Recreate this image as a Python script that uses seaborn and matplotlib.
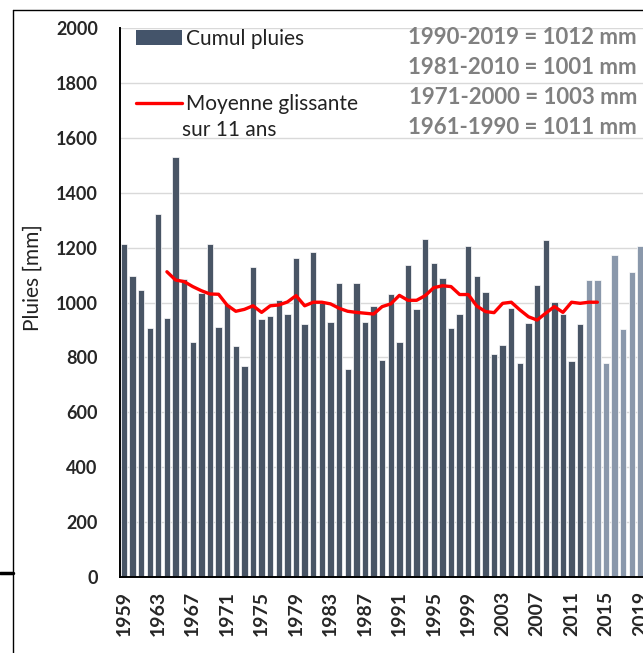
import matplotlib
matplotlib.use("Agg")
import matplotlib.pyplot as plt
from matplotlib.lines import Line2D
from matplotlib.patches import Patch
import numpy as np
import pandas as pd
import seaborn as sns

# cumul annuel des pluies (mm), 1959-2019
annees = list(range(1959, 2020))
pluies = [1213, 1098, 1045, 906, 1322, 942, 1530, 1086, 855, 1033,
          1213, 910, 994, 841, 770, 1129, 939, 951, 1009, 958,
          1161, 922, 1185, 997, 930, 1070, 757, 1070, 930, 986,
          790, 1030, 855, 1138, 978, 1230, 1145, 1090, 906, 958,
          1206, 1098, 1037, 814, 845, 981, 778, 927, 1063, 1227,
          1001, 959, 787, 923, 1082, 1082, 778, 1174, 902, 1110, 1206]
derniere_annee_foncee = 2012

# moyenne glissante sur 11 ans
annees_mg = list(range(1964, 2015))
moy_gliss = [1112, 1082, 1076, 1058, 1043, 1031, 1030, 990, 968, 975,
             988, 964, 988, 991, 1002, 1025, 988, 1001, 1001, 995,
             979, 968, 964, 961, 958, 985, 995, 1026, 1008, 1008,
             1025, 1054, 1061, 1058, 1029, 1029, 987, 967, 963, 997,
             1001, 973, 948, 936, 961, 985, 964, 1001, 997, 1001, 1001]

normales = ["1990-2019 = 1012 mm", "1981-2010 = 1001 mm",
            "1971-2000 = 1003 mm", "1961-1990 = 1011 mm"]

fonce = "#44546A"
clair = "#8497B0"

sns.set_theme(style="white")
plt.rcParams["font.family"] = ["Lato", "DejaVu Sans"]

df = pd.DataFrame({"annee": [str(a) for a in annees], "pluie": pluies,
                   "serie": ["a" if a <= derniere_annee_foncee else "b" for a in annees]})

fig = plt.figure(figsize=(6.43, 6.53), dpi=100)
ax = fig.add_axes([120 / 643, 76 / 653, 523 / 643, 549 / 653])

sns.barplot(data=df, x="annee", y="pluie", hue="serie",
            palette={"a": fonce, "b": clair}, dodge=False, width=0.74,
            edgecolor="white", linewidth=0.5, legend=False, ax=ax)

pos_mg = [a - annees[0] for a in annees_mg]
sns.lineplot(x=pos_mg, y=moy_gliss, color="#FF0000", linewidth=2.4, ax=ax)

ax.set_xlim(-0.45, 60.3)
ax.set_ylim(0, 2000)
ax.set_yticks(np.arange(0, 2001, 200))
ax.set_xticks(range(0, len(annees), 4))
ax.set_xticklabels([str(a) for a in annees[::4]], rotation=90,
                   fontsize=14, fontweight="bold")
for lab in ax.get_yticklabels():
    lab.set_fontweight("bold")
    lab.set_fontsize(13)

ax.yaxis.grid(True, color="#D9D9D9", linewidth=1)
ax.set_axisbelow(True)
ax.tick_params(axis="y", direction="in", length=6, width=1.3, color="black", pad=16)
ax.tick_params(axis="x", length=0, pad=10)
for s in ["top", "right"]:
    ax.spines[s].set_visible(False)
for s in ["left", "bottom"]:
    ax.spines[s].set_color("black")
    ax.spines[s].set_linewidth(1.4)

ax.set_xlabel("")
ax.set_ylabel("Pluies [mm]", fontsize=15, color="#222222")
ax.yaxis.set_label_coords((43 - 120) / 523, 0.546)

handles = [Patch(facecolor=fonce, edgecolor="none"),
           Line2D([0], [0], color="#FF0000", linewidth=2.4)]
ax.legend(handles, ["Cumul pluies", "Moyenne glissante"], loc="upper left",
          bbox_to_anchor=(0.015, 1.014), frameon=False, fontsize=15,
          handlelength=2.2, handletextpad=0.2, labelspacing=2.2,
          borderaxespad=0, labelcolor="#222222")
ax.text(0.118, 0.814, "sur 11 ans", transform=ax.transAxes, fontsize=15,
        color="#222222", va="center", ha="left")

for i, t in enumerate(normales):
    fig.text(637 / 643, 1 - (37 + 30 * i) / 653, t, ha="right", va="center",
             fontsize=16, fontweight="bold", color="#808080")

# cadre autour du graphique
fig.add_artist(Line2D([13 / 643, 13 / 643], [0, 1 - 10 / 653], color="black", lw=1))
fig.add_artist(Line2D([13 / 643, 1], [1 - 10 / 653, 1 - 10 / 653], color="black", lw=1))
fig.add_artist(Line2D([0, 13 / 643], [1 - 573 / 653, 1 - 573 / 653], color="black", lw=2.5))

fig.savefig("out.png", dpi=100)
